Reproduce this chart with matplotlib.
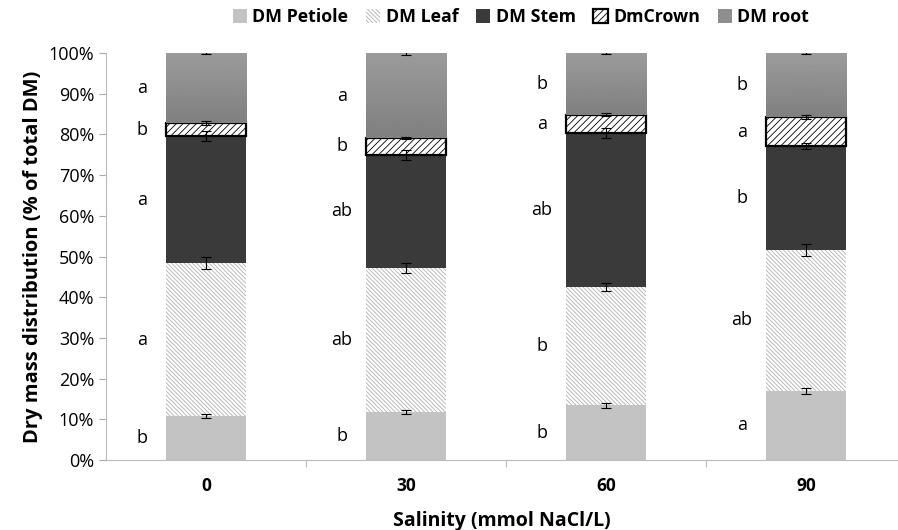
import numpy as np
import matplotlib.pyplot as plt
import matplotlib as mpl

plt.rcParams['font.family'] = ['Open Sans', 'DejaVu Sans']
mpl.rcParams['hatch.linewidth'] = 0.6

# data (% of total DM)
salinity = ['0', '30', '60', '90']
petiole = [10.8, 11.8, 13.5, 17.0]
leaf = [37.6, 35.4, 29.0, 34.6]
stem = [31.2, 27.8, 37.8, 25.5]
crown = [3.2, 4.1, 4.5, 7.2]
root = [17.2, 20.9, 15.2, 15.7]

err_petiole = [0.5, 0.4, 0.6, 0.7]
err_leaf = [1.5, 1.3, 1.0, 1.4]
err_stem = [1.3, 1.2, 1.3, 0.8]
err_crown = [0.4, 0.3, 0.4, 0.4]
err_root = [0.3, 0.4, 0.2, 0.2]

letters_petiole = ['b', 'b', 'b', 'a']
letters_leaf = ['a', 'ab', 'b', 'ab']
letters_stem = ['a', 'ab', 'ab', 'b']
letters_crown = ['b', 'b', 'a', 'a']
letters_root = ['a', 'a', 'b', 'b']

series = [
    ('DM Petiole', petiole, err_petiole, letters_petiole,
     dict(color='#c3c3c3', edgecolor='none')),
    ('DM Leaf', leaf, err_leaf, letters_leaf,
     dict(facecolor='white', edgecolor='#b0b0b0', hatch='\\\\\\\\\\\\\\\\', linewidth=0)),
    ('DM Stem', stem, err_stem, letters_stem,
     dict(color='#3a3a3a', edgecolor='none')),
    ('DmCrown', crown, err_crown, letters_crown,
     dict(facecolor='white', edgecolor='black', hatch='/////', linewidth=1.6)),
    ('DM root', root, err_root, letters_root,
     dict(color='#8e8e8e', edgecolor='none')),
]

fig = plt.figure(figsize=(8.98, 5.30), dpi=100)
ax = fig.add_axes([0.118, 0.132, 0.882, 0.768])

x = np.arange(len(salinity))
bottom = np.zeros(len(salinity))
grad = np.linspace(0.50, 0.61, 64).reshape(-1, 1)
for name, vals, errs, lets, style in series:
    vals = np.array(vals)
    bars = ax.bar(x, vals, 0.4, bottom=bottom, label=name, zorder=1, **style)
    if name == 'DM root':
        # soft vertical gradient like the original
        for p in bars:
            x0, y0 = p.get_x(), p.get_y()
            ax.imshow(grad, cmap='gray', vmin=0, vmax=1, aspect='auto',
                      origin='lower', zorder=1.5,
                      extent=(x0, x0 + p.get_width(), y0, y0 + p.get_height()))
    top = bottom + vals
    ax.errorbar(x, top, yerr=errs, fmt='none', ecolor='black',
                elinewidth=0.8, capsize=3.5, capthick=0.8, zorder=3)
    for xi, b, t, l in zip(x, bottom, top, lets):
        ax.text(xi - 0.32, (b + t) / 2, l, ha='center', va='center', fontsize=13)
    bottom = top

ax.set_xlim(-0.5, 3.46)
ax.set_ylim(0, 100)
ax.set_yticks(np.arange(0, 101, 10))
ax.set_yticklabels([f'{v}%' for v in range(0, 101, 10)], fontsize=13)
ax.set_xticks(x)
ax.set_xticklabels(salinity, fontsize=12.5, fontweight='bold')
ax.set_xticks(x[:-1] + 0.5, minor=True)
ax.tick_params(axis='x', which='major', length=0, pad=12)
ax.tick_params(axis='x', which='minor', length=5, color='#aaaaaa')
ax.tick_params(axis='y', length=5, color='#aaaaaa')

for s in ['top', 'right']:
    ax.spines[s].set_visible(False)
for s in ['left', 'bottom']:
    ax.spines[s].set_color('#bbbbbb')

ax.set_ylabel('Dry mass distribution (% of total DM)', fontsize=14.5, fontweight='bold')
ax.set_xlabel('Salinity (mmol NaCl/L)', fontsize=14, fontweight='bold', labelpad=12)

fig.legend(loc='upper center', bbox_to_anchor=(0.58, 1.015), ncol=5, frameon=False,
           prop={'weight': 'bold', 'size': 12.8}, handlelength=0.8, handleheight=0.8,
           handletextpad=0.3, columnspacing=1.0)

fig.savefig('out.png', dpi=100)
